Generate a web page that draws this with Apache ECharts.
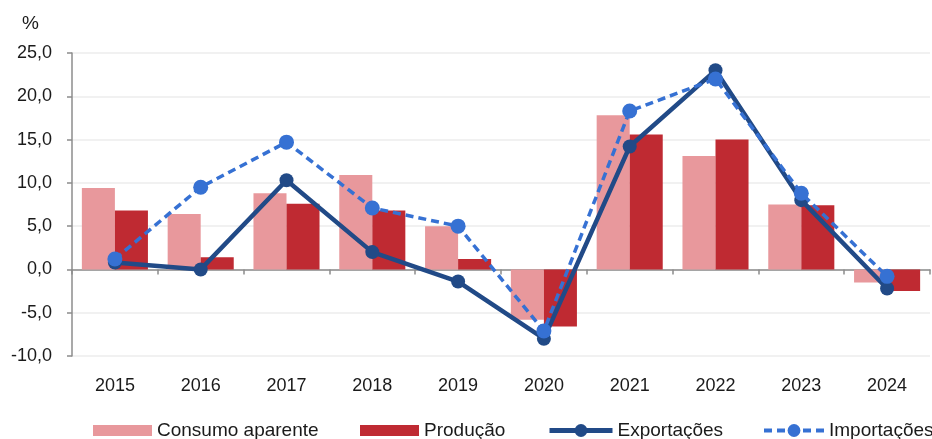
<!DOCTYPE html>
<html>
<head>
<meta charset="utf-8">
<script src="https://cdn.jsdelivr.net/npm/echarts@6/dist/echarts.min.js"></script>
<style>
html,body{margin:0;padding:0;background:#fff;}
#chart{width:932px;height:439px;}
</style>
</head>
<body>
<div id="chart"></div>
<script>
const categories = ['2015','2016','2017','2018','2019','2020','2021','2022','2023','2024'];
const consumoAparente = [9.4, 6.4, 8.8, 10.9, 5.0, -5.8, 17.8, 13.1, 7.5, -1.5];
const producao = [6.8, 1.4, 7.6, 6.8, 1.2, -6.6, 15.6, 15.0, 7.4, -2.5];
const exportacoes = [0.8, 0.0, 10.3, 2.0, -1.4, -8.0, 14.2, 23.0, 8.0, -2.2];
const importacoes = [1.2, 9.5, 14.7, 7.1, 5.0, -7.1, 18.3, 22.0, 8.8, -0.8];
const yTicks = {min: -10, max: 25, interval: 5};

const fontFam = '"Liberation Sans", Arial, sans-serif';
const cPink = '#E8989C', cRed = '#BF2A32', cExp = '#214A87', cImp = '#3671D3';
const axisGray = '#8c8c8c';

const chart = echarts.init(document.getElementById('chart'));
function leg(name, left, icon, w, h, extra) {
  return Object.assign({
    data: [name], left: left, top: 421, itemWidth: w, itemHeight: h,
    icon: icon, padding: 0, itemGap: 0,
    textStyle: {fontFamily: fontFam, fontSize: 19, color: '#1a1a1a'}
  }, extra || {});
}
chart.setOption({
  animation: false,
  textStyle: {fontFamily: fontFam},
  grid: {left: 72, right: 2, top: 53, bottom: 83, containLabel: false},
  graphic: [{type: 'text', left: 22, top: 14, style: {text: '%', fontSize: 19, fill: '#1a1a1a', fontFamily: fontFam}}],
  legend: [
    leg('Consumo aparente', 93, 'rect', 59, 11),
    leg('Produção', 360, 'rect', 59, 11),
    leg('Exportações', 547, undefined, 63, 16, {lineStyle: {width: 5}}),
    leg('Importações', 762, undefined, 60, 16, {lineStyle: {width: 4}})
  ],
  xAxis: [
    {
      type: 'category', data: categories,
      axisLine: {onZero: true, lineStyle: {color: axisGray, width: 1.5}},
      axisTick: {show: true, length: 5, lineStyle: {color: axisGray, width: 1.5}},
      axisLabel: {show: false}
    },
    {
      type: 'category', data: categories, position: 'bottom',
      axisLine: {show: false, onZero: false},
      axisTick: {show: false},
      axisLabel: {fontSize: 18, color: '#1a1a1a', margin: 21, fontFamily: fontFam}
    }
  ],
  yAxis: {
    type: 'value', min: yTicks.min, max: yTicks.max, interval: yTicks.interval,
    axisLine: {show: true, lineStyle: {color: axisGray, width: 1.5}},
    axisTick: {show: true, length: 5, lineStyle: {color: axisGray, width: 1.5}},
    splitLine: {lineStyle: {color: '#ececec', width: 1.5}},
    axisLabel: {fontSize: 18, color: '#1a1a1a', margin: 20, fontFamily: fontFam,
      formatter: v => v.toFixed(1).replace('.', ',')}
  },
  series: [
    {name: 'Consumo aparente', type: 'bar', data: consumoAparente, itemStyle: {color: cPink},
      barGap: '0%', barCategoryGap: '23%'},
    {name: 'Produção', type: 'bar', data: producao, itemStyle: {color: cRed},
      barGap: '0%', barCategoryGap: '23%'},
    {name: 'Exportações', type: 'line', data: exportacoes, symbol: 'circle', symbolSize: 14,
      lineStyle: {color: cExp, width: 4.5}, itemStyle: {color: cExp}, z: 3},
    {name: 'Importações', type: 'line', data: importacoes, symbol: 'circle', symbolSize: 15,
      lineStyle: {color: cImp, width: 3.5, type: [8, 5]}, itemStyle: {color: cImp}, z: 4}
  ]
});
</script>
</body>
</html>
